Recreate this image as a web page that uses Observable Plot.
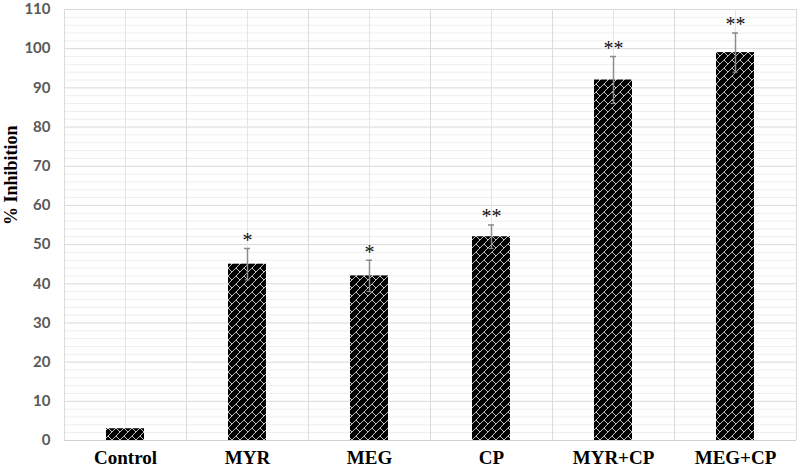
<!DOCTYPE html>
<html>
<head>
<meta charset="utf-8">
<script src="https://cdn.jsdelivr.net/npm/d3@7"></script>
<script src="https://cdn.jsdelivr.net/npm/@observablehq/plot@0.6"></script>
<style>
  html, body { margin: 0; padding: 0; background: #fff; }
  svg { overflow: visible; }
</style>
</head>
<body>
<div id="chart"></div>
<script>
const categories = ["Control", "MYR", "MEG", "CP", "MYR+CP", "MEG+CP"];
const values = [3, 45, 42, 52, 92, 99];
const errors = [0, 4, 4, 3, 6, 5];
const signif = ["", "*", "*", "**", "**", "**"];
const yTicks = [0, 10, 20, 30, 40, 50, 60, 70, 80, 90, 100, 110];
const minorTicks = d3.range(2, 110, 2).filter(v => v % 10 !== 0);

const data = categories.map((c, i) => ({cat: c, value: values[i], err: errors[i], star: signif[i]}));
const withErr = data.filter(d => d.err > 0);

const plot = Plot.plot({
  width: 800,
  height: 473,
  marginLeft: 64,
  marginRight: 4,
  marginTop: 9,
  marginBottom: 33,
  x: {domain: categories, paddingInner: 0.69, paddingOuter: 0.345, label: null},
  y: {domain: [0, 110], label: null},
  marks: [
    Plot.ruleY(minorTicks, {stroke: "#eeeeee", strokeWidth: 1}),
    Plot.ruleY(yTicks, {stroke: "#d9d9d9", strokeWidth: 1}),
    Plot.ruleX(categories, {x: d => d, stroke: "#e4e4e4", strokeWidth: 1}),
    Plot.ruleX(categories, {x: d => d, dx: -61, stroke: "#dcdcdc", strokeWidth: 1}),
    Plot.ruleX(categories.slice(-1), {x: d => d, dx: 61, stroke: "#dcdcdc", strokeWidth: 1}),
    Plot.ruleY([0], {stroke: "#d0d0d0", strokeWidth: 1.2}),
    Plot.barY(data, {x: "cat", y: "value", fill: "url(#brick)"}),
    Plot.ruleX(withErr, {x: "cat", y1: d => d.value - d.err, y2: d => d.value + d.err, stroke: "#8c8c8c", strokeWidth: 1.5}),
    Plot.tickY(withErr, {x: "cat", y: d => d.value + d.err, stroke: "#8c8c8c", strokeWidth: 1.5, insetLeft: 16, insetRight: 16}),
    Plot.tickY(withErr, {x: "cat", y: d => d.value - d.err, stroke: "#8c8c8c", strokeWidth: 1.2, insetLeft: 16.5, insetRight: 16.5}),
    Plot.text(withErr, {x: "cat", y: d => d.value + d.err, text: "star", dy: -8, lineAnchor: "middle", fontSize: 20, fontFamily: "Liberation Serif", fill: "#111"}),
    Plot.axisY({ticks: yTicks, tickSize: 0, tickPadding: 14, fontSize: 15, fontWeight: "bold", fontFamily: "Lato, 'Open Sans', sans-serif", fill: "#595959", label: null}),
    Plot.axisX({tickSize: 0, tickPadding: 10, fontSize: 19, fontWeight: "bold", fontFamily: "'Liberation Serif', 'Times New Roman', serif", fill: "#000", label: null}),
    Plot.text(["% Inhibition"], {frameAnchor: "left", rotate: -90, dx: -53, fontSize: 18, fontWeight: "bold", fontFamily: "'Liberation Serif', 'Times New Roman', serif", fill: "#000"})
  ]
});

d3.select(plot).insert("defs", ":first-child").html(
  `<pattern id="brick" patternUnits="userSpaceOnUse" width="8" height="8">
     <rect width="8" height="8" fill="#000"/>
     <path d="M0,8 L8,0 M-1,1 L1,-1 M7,9 L9,7 M4,4 L8,8" stroke="#c4c4c4" stroke-width="1" fill="none"/>
   </pattern>`
);

document.getElementById("chart").appendChild(plot);
</script>
</body>
</html>
